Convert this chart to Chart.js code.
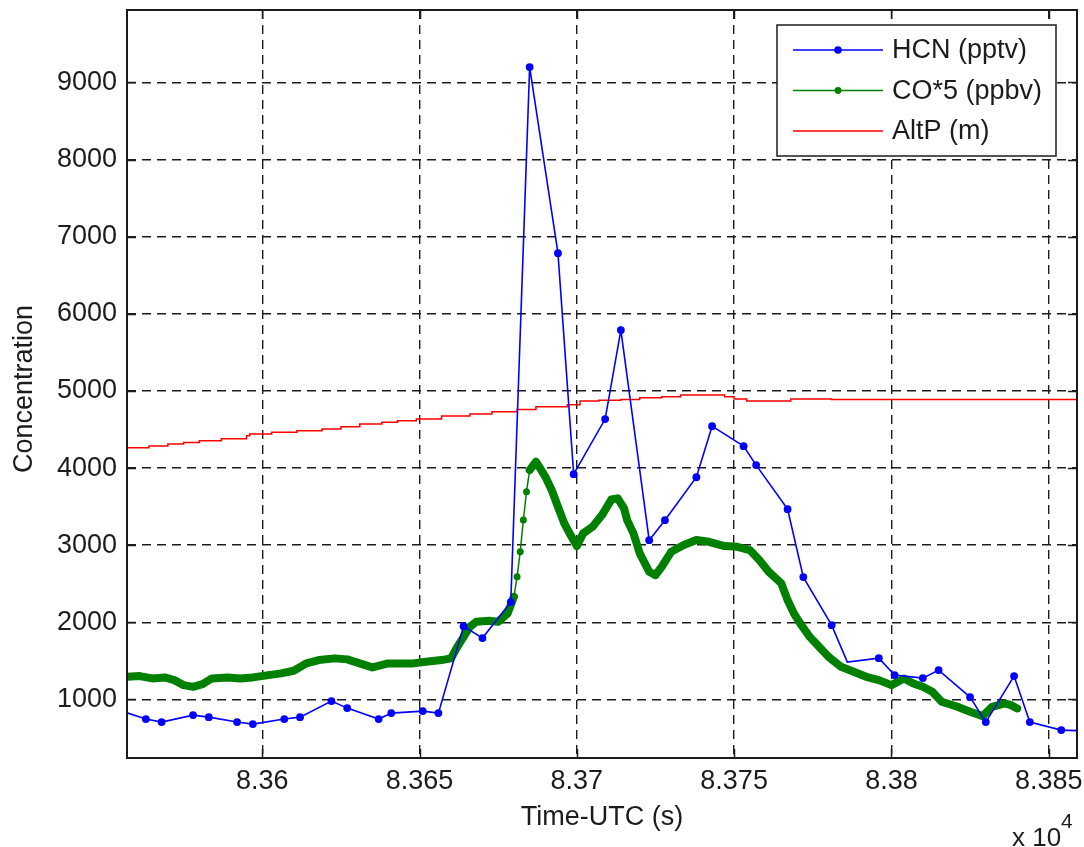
<!DOCTYPE html>
<html>
<head>
<meta charset="utf-8">
<title>HCN / CO / AltP</title>
<script src="https://cdn.jsdelivr.net/npm/chart.js@4.4.1/dist/chart.umd.min.js"></script>
<style>
  html, body { margin: 0; padding: 0; background: #fff; }
  #plot { display: block; }
</style>
</head>
<body>
<canvas id="plot" width="1084" height="847"></canvas>
<script>
// Time axis in seconds UTC, values in pptv / ppbv / m

// HCN (pptv)
const hcnTime = [83557, 83563, 83568, 83578, 83583, 83592, 83597, 83607, 83612, 83622, 83627,
  83637, 83641, 83651, 83656, 83664, 83670, 83679, 83685, 83694, 83699, 83709, 83714, 83723,
  83728, 83738, 83743, 83753, 83757, 83767, 83772, 83781, 83786, 83796, 83801, 83810, 83815,
  83825, 83830, 83839, 83844, 83854, 83863];
const hcnValue = [826, 745, 706, 796, 770, 706, 680, 745, 770, 978, 887,
  745, 822, 848, 822, 1950, 1795, 2262, 9200, 6787, 3921, 4635, 5789, 3065,
  3324, 3881, 4543, 4284, 4038, 3467, 2586, 1963, 1483, 1535, 1315, 1276, 1380,
  1030, 706, 1302, 706, 602, 589];
// interpolated HCN points that carry no marker
const hcnNoMarker = [83557, 83786, 83863];

// CO*5 (ppbv)
const coTime = [83557, 83561, 83565, 83569, 83572, 83575, 83578, 83581, 83584, 83589,
  83593, 83597, 83602, 83606, 83610, 83614, 83618, 83623, 83627, 83631,
  83635, 83640, 83644, 83648, 83652, 83657, 83660, 83662, 83664, 83666,
  83668, 83672, 83675, 83678, 83680, 83681, 83682, 83683, 83684, 83685,
  83687, 83688, 83690, 83692, 83694, 83696, 83698, 83700, 83702, 83705,
  83708, 83711, 83713, 83715, 83716, 83718, 83719, 83720, 83723, 83725, 83727,
  83730, 83734, 83738, 83742, 83747, 83751, 83755, 83758, 83761, 83765,
  83767, 83769, 83771, 83774, 83777, 83780, 83784, 83788, 83792, 83796,
  83800, 83804, 83807, 83810, 83813, 83816, 83821, 83825, 83829, 83832,
  83836, 83838, 83840];
const coValue = [1293, 1302, 1272, 1285, 1250, 1185, 1163, 1198, 1272, 1285,
  1272, 1285, 1315, 1337, 1371, 1467, 1510, 1532, 1519, 1467,
  1415, 1467, 1467, 1467, 1488, 1510, 1532, 1682, 1812, 1942,
  2006, 2019, 2006, 2115, 2331, 2590, 2914, 3326, 3693, 3974,
  4082, 4017, 3887, 3715, 3498, 3283, 3131, 2990, 3153, 3239,
  3390, 3594, 3607, 3477, 3325, 3153, 3023, 2894, 2655, 2612, 2720,
  2914, 3001, 3066, 3044, 2988, 2979, 2936, 2807, 2655, 2504,
  2288, 2115, 1986, 1812, 1682, 1553, 1423, 1358, 1293, 1250,
  1185, 1272, 1207, 1163, 1099, 969, 904, 839, 783, 904,
  948, 926, 883];

// AltP (m), value holds until the next time
const altTime = [83557, 83564, 83570, 83575, 83580, 83587, 83595, 83596, 83603, 83611,
  83619, 83625, 83631, 83638, 83643, 83649, 83657, 83666, 83673, 83681,
  83687, 83697, 83701, 83707, 83714, 83720, 83727, 83733, 83747, 83750,
  83754, 83768, 83781, 83859];
const altValue = [4242, 4263, 4285, 4311, 4332, 4354, 4380, 4419, 4441, 4463,
  4484, 4506, 4536, 4571, 4593, 4614, 4635, 4674, 4700, 4729,
  4760, 4794, 4820, 4868, 4880, 4890, 4911, 4925, 4946, 4925,
  4895, 4868, 4895, 4890];

const xTicks = [83600, 83650, 83700, 83750, 83800, 83850];
const yTicks = [1000, 2000, 3000, 4000, 5000, 6000, 7000, 8000, 9000];

const FONT = "'Liberation Sans', Arial, Helvetica, sans-serif";
const INK = '#1c1c1c';
const BLUE = '#0000ff', GREEN = '#008000', RED = '#ff0000';

const pairs = (xs, ys) => xs.map((x, i) => ({ x: x, y: ys[i] }));

// keep the plot box where it is: no extra room for overhanging tick labels
const noOverhang = s => {
  s.paddingTop = 0; s.paddingBottom = 0;
  s.paddingLeft = 0; s.paddingRight = 0;
};

// axes box, inward ticks, axis titles and the legend
const decorations = {
  id: 'decorations',
  afterDatasetsDraw(chart) {
    const { ctx, chartArea: a, scales } = chart;
    ctx.save();
    ctx.strokeStyle = INK;
    ctx.lineWidth = 1.5;
    ctx.beginPath();
    xTicks.forEach(v => {
      const x = Math.round(scales.x.getPixelForValue(v)) + 0.5;
      ctx.moveTo(x, a.bottom); ctx.lineTo(x, a.bottom - 9);
      ctx.moveTo(x, a.top); ctx.lineTo(x, a.top + 9);
    });
    yTicks.forEach(v => {
      const y = Math.round(scales.y.getPixelForValue(v)) + 0.5;
      ctx.moveTo(a.left, y); ctx.lineTo(a.left + 9, y);
      ctx.moveTo(a.right, y); ctx.lineTo(a.right - 9, y);
    });
    ctx.stroke();
    ctx.lineWidth = 2;
    ctx.strokeRect(a.left, a.top, a.right - a.left, a.bottom - a.top);
    ctx.restore();
  },
  afterDraw(chart) {
    const { ctx, chartArea: a } = chart;
    ctx.save();
    ctx.fillStyle = INK;
    ctx.font = '27px ' + FONT;

    // x title and exponent
    ctx.textAlign = 'center';
    ctx.textBaseline = 'middle';
    ctx.fillText('Time-UTC (s)', (a.left + a.right) / 2, 818);
    ctx.textAlign = 'left';
    ctx.textBaseline = 'alphabetic';
    ctx.font = '26px ' + FONT;
    ctx.fillText('x 10', 1012, 846);
    ctx.font = '21px ' + FONT;
    ctx.fillText('4', 1061, 828);

    // y title
    ctx.font = '27px ' + FONT;
    ctx.translate(25, (a.top + a.bottom) / 2 + 5);
    ctx.rotate(-Math.PI / 2);
    ctx.textAlign = 'center';
    ctx.textBaseline = 'middle';
    ctx.fillText('Concentration', 0, 0);
    ctx.setTransform(1, 0, 0, 1, 0, 0);

    // legend
    const box = { x: 777, y: 25, w: 279, h: 131 };
    ctx.fillStyle = '#fff';
    ctx.fillRect(box.x, box.y, box.w, box.h);
    ctx.strokeStyle = INK;
    ctx.lineWidth = 1.5;
    ctx.strokeRect(box.x, box.y, box.w, box.h);
    const rows = [
      { label: 'HCN (pptv)', color: BLUE, marker: 3.8 },
      { label: 'CO*5 (ppbv)', color: GREEN, marker: 3.4 },
      { label: 'AltP (m)', color: RED, marker: 0 }
    ];
    rows.forEach((r, i) => {
      const y = 50 + i * 40.5;
      ctx.strokeStyle = r.color;
      ctx.lineWidth = 1.6;
      ctx.beginPath();
      ctx.moveTo(793, y); ctx.lineTo(883, y);
      ctx.stroke();
      if (r.marker) {
        ctx.fillStyle = r.color;
        ctx.beginPath();
        ctx.arc(838, y, r.marker, 0, Math.PI * 2);
        ctx.fill();
      }
      ctx.fillStyle = INK;
      ctx.textAlign = 'left';
      ctx.textBaseline = 'middle';
      ctx.font = '27px ' + FONT;
      ctx.fillText(r.label, 892, y + 1);
    });
    ctx.restore();
  }
};

// the CO markers sit 1 s apart and merge into a band; steep steps show the bare line
const coSegmentWidth = c => Math.abs(c.p1.y - c.p0.y) > 19 ? 1.5 : 8;

new Chart(document.getElementById('plot'), {
  type: 'line',
  data: {
    datasets: [
      {
        label: 'HCN (pptv)',
        data: pairs(hcnTime, hcnValue),
        borderColor: BLUE,
        backgroundColor: BLUE,
        borderWidth: 1.6,
        pointRadius: c => hcnNoMarker.includes(hcnTime[c.dataIndex]) ? 0 : 3.9,
        pointBorderWidth: 0,
        pointBackgroundColor: BLUE,
        clip: 0
      },
      {
        label: 'CO*5 (ppbv)',
        data: pairs(coTime, coValue),
        borderColor: GREEN,
        backgroundColor: GREEN,
        borderWidth: 1.5,
        borderCapStyle: 'round',
        borderJoinStyle: 'round',
        segment: {
          borderWidth: coSegmentWidth,
          borderCapStyle: 'round',
          borderJoinStyle: 'round'
        },
        pointRadius: 3.5,
        pointBorderWidth: 0,
        pointBackgroundColor: GREEN,
        clip: 0
      },
      {
        label: 'AltP (m)',
        data: pairs(altTime, altValue),
        borderColor: RED,
        borderWidth: 1.5,
        stepped: 'after',
        pointRadius: 0,
        clip: 0
      }
    ]
  },
  options: {
    responsive: false,
    animation: false,
    devicePixelRatio: 1,
    layout: { padding: { top: 10, right: 7, left: 0, bottom: 0 } },
    plugins: { legend: { display: false }, tooltip: { enabled: false } },
    scales: {
      x: {
        type: 'linear',
        min: 83557,
        max: 83859,
        afterBuildTicks: s => { s.ticks = xTicks.map(v => ({ value: v })); },
        afterFit: s => { s.height = 89; noOverhang(s); },
        ticks: {
          padding: 7,
          maxRotation: 0,
          autoSkip: false,
          color: INK,
          font: { family: FONT, size: 27 },
          callback: v => String(+(v / 1e4).toFixed(4))
        },
        grid: { color: INK, lineWidth: 1.4, drawTicks: false },
        border: { display: false, dash: [9, 6] }
      },
      y: {
        min: 240,
        max: 9940,
        afterBuildTicks: s => { s.ticks = yTicks.map(v => ({ value: v })); },
        afterFit: s => { s.width = 127; noOverhang(s); },
        ticks: {
          padding: 10,
          color: INK,
          font: { family: FONT, size: 27 },
          callback: v => String(v)
        },
        grid: { color: INK, lineWidth: 1.4, drawTicks: false },
        border: { display: false, dash: [9, 6] }
      }
    }
  },
  plugins: [decorations]
});
</script>
</body>
</html>
